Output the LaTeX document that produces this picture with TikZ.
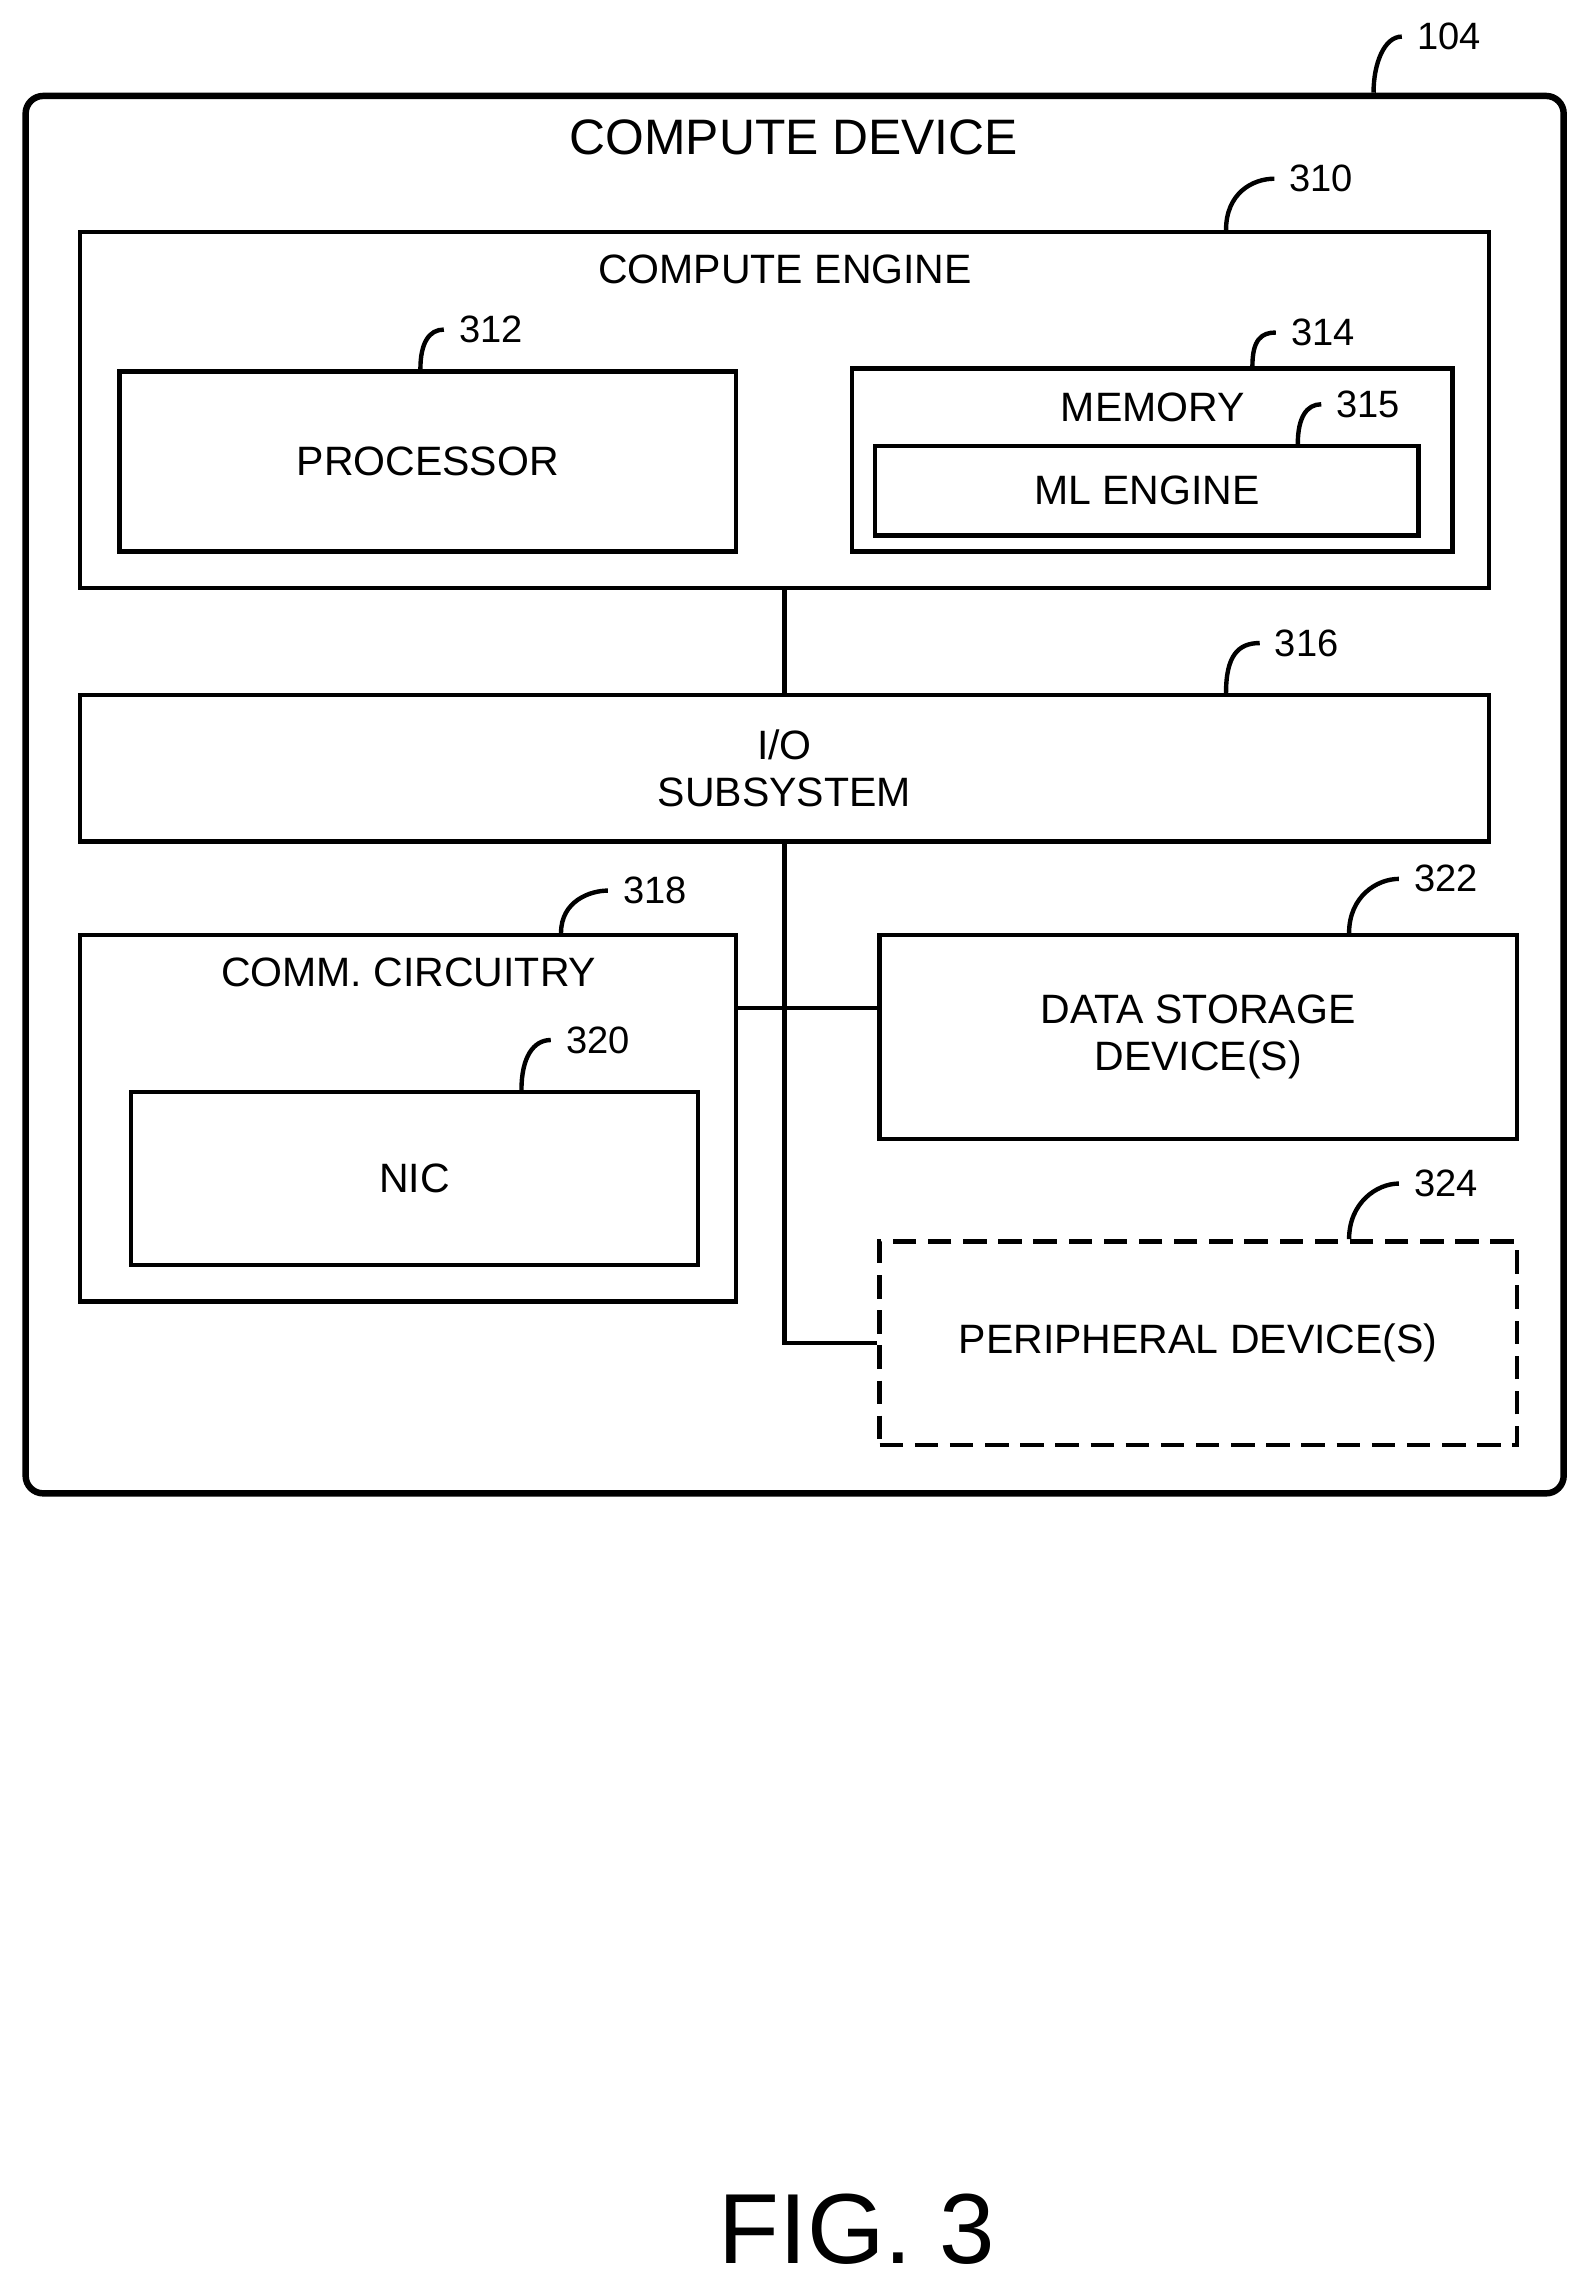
\documentclass[tikz,border=0pt]{standalone}
\usepackage{fontspec}
\setmainfont{Liberation Sans}
\usetikzlibrary{positioning}
\tikzset{
  box/.style={draw, line width=1.5pt, inner sep=0pt, font=\fontsize{14}{16}\selectfont, align=center},
  num/.style={font=\fontsize{13}{15}\selectfont, inner sep=5pt, anchor=west},
  hook/.style={line width=1.5pt}
}
\begin{document}
\begin{tikzpicture}[x=0.5pt,y=-0.5pt]
\useasboundingbox (0,0) rectangle (1085,1562);
% outer device
\node[box, rounded corners=6pt, line width=2.2pt, minimum width=525pt, minimum height=477pt] (dev) at (542.5,542.5) {};
\node[font=\fontsize{17}{19}\selectfont] (devlbl) at (542,94) {COMPUTE DEVICE};
\node[num] (n104) at (957,25) {104};
% compute engine
\node[box, minimum width=481pt, minimum height=121.5pt] (eng) at (535.5,280) {};
\node[font=\fontsize{14}{16}\selectfont] (englbl) at (536,184) {COMPUTE ENGINE};
\node[num] (n310) at (870,122) {310};
\node[box, minimum width=210.5pt, minimum height=61.5pt] (proc) at (292,315) {PROCESSOR};
\node[num] (n312) at (303,225) {312};
\node[box, minimum width=205pt, minimum height=62.5pt] (mem) at (786.5,314) {};
\node[font=\fontsize{14}{16}\selectfont] (memlbl) at (787,278) {MEMORY};
\node[num] (n314) at (871,227) {314};
\node[box, minimum width=185.5pt, minimum height=30.5pt] (ml) at (783,335) {ML ENGINE};
\node[num] (n315) at (902,276) {315};
% io
\node[box, minimum width=481pt, minimum height=50pt] (io) at (535.5,524.5) {I/O\\SUBSYSTEM};
\node[num] (n316) at (860,439) {316};
% comm
\node[box, minimum width=224pt, minimum height=125pt] (comm) at (278.5,763.5) {};
\node[font=\fontsize{14}{16}\selectfont] (commlbl) at (279,664) {COMM. CIRCUITRY};
\node[num] (n318) at (415,608) {318};
\node[box, minimum width=193.5pt, minimum height=59pt] (nic) at (283,804.5) {NIC};
\node[num] (n320) at (376,710) {320};
% storage and peripherals
\node[box, minimum width=217.5pt, minimum height=69.5pt] (stor) at (818,708) {DATA STORAGE\\DEVICE(S)};
\node[num] (n322) at (955,600) {322};
\node[box, dashed, dash pattern=on 8pt off 4pt, minimum width=217.5pt, minimum height=69.5pt] (peri) at (818,917) {PERIPHERAL DEVICE(S)};
\node[num] (n324) at (955,808) {324};
\node[font=\fontsize{34}{38}\selectfont] (fig) at (585,1522) {FIG. 3};
% bus
\coordinate (bus) at (536,688);
\draw[hook] (eng.south) -- (io.north);
\draw[hook] (io.south) |- (peri.west);
\draw[hook] (comm.east |- bus) -- (stor.west |- bus);
% reference hooks
\draw[hook] ([xshift=-66pt]dev.north east) .. controls +(0,-20) and +(-12,0) .. (n104.west);
\draw[hook] ([xshift=-90.5pt]eng.north east) .. controls +(0,-25) and +(-15,0) .. (n310.west);
\draw[hook] ([xshift=103.5pt]proc.north west) .. controls +(0,-18) and +(-10,0) .. (n312.west);
\draw[hook] ([xshift=-69pt]mem.north east) .. controls +(0,-18) and +(-10,0) .. (n314.west);
\draw[hook] ([xshift=-42pt]ml.north east) .. controls +(0,-18) and +(-10,0) .. (n315.west);
\draw[hook] ([xshift=-90.5pt]io.north east) .. controls +(0,-25) and +(-15,0) .. (n316.west);
\draw[hook] ([xshift=-60.5pt]comm.north east) .. controls +(0,-22) and +(-12,0) .. (n318.west);
\draw[hook] ([xshift=-61pt]nic.north east) .. controls +(0,-22) and +(-12,0) .. (n320.west);
\draw[hook] ([xshift=-58pt]stor.north east) .. controls +(0,-25) and +(-15,0) .. (n322.west);
\draw[hook] ([xshift=-58pt]peri.north east) .. controls +(0,-25) and +(-15,0) .. (n324.west);
\end{tikzpicture}
\end{document}
